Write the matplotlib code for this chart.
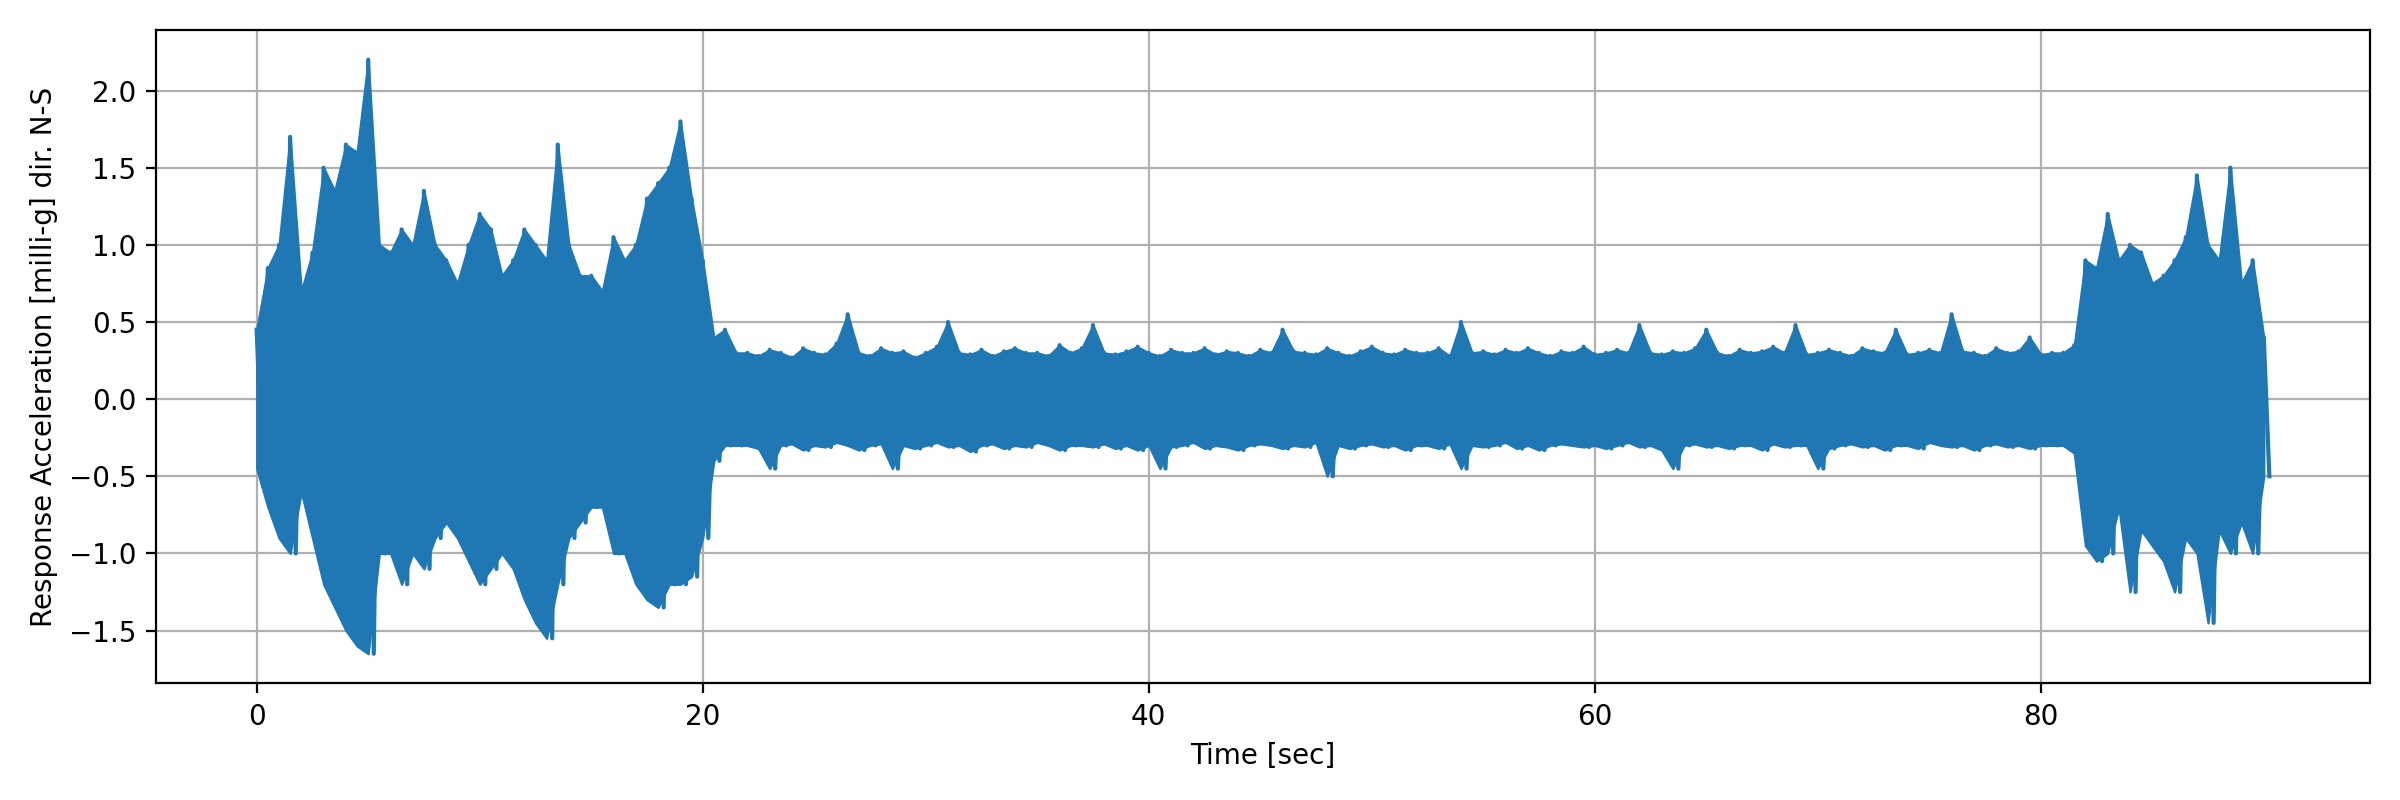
import numpy as np
import matplotlib.pyplot as plt

# half-second peak envelope read from the record (milli-g), three phases
burst_up = [0.45, 0.85, 1.0, 1.7, 0.7, 0.95, 1.5, 1.35, 1.65, 1.6, 2.2, 1.0, 0.95, 1.1, 1.0, 1.35,
            1.0, 0.9, 0.75, 1.0, 1.2, 1.1, 0.8, 0.9, 1.1, 1.0, 0.9, 1.65, 1.0, 0.8, 0.8, 0.7,
            1.05, 0.9, 1.0, 1.3, 1.4, 1.5, 1.8, 1.3, 0.9, 0.4, 0.45, 0.3]
burst_lo = [-0.45, -0.7, -0.9, -1.0, -0.6, -0.9, -1.2, -1.35, -1.5, -1.6, -1.65, -1.0, -1.0, -1.2, -1.0, -1.1,
            -0.9, -0.8, -0.9, -1.05, -1.2, -1.1, -1.0, -1.1, -1.3, -1.45, -1.55, -1.2, -0.9, -0.8, -0.7, -0.7,
            -1.0, -1.0, -1.2, -1.3, -1.35, -1.2, -1.2, -1.15, -0.9, -0.4, -0.3, -0.3]

quiet_up = [0.3, 0.28, 0.32, 0.3, 0.27, 0.33, 0.3, 0.29, 0.36, 0.55, 0.3, 0.28, 0.33, 0.3, 0.31, 0.27,
            0.3, 0.34, 0.5, 0.3, 0.29, 0.32, 0.28, 0.31, 0.33, 0.3, 0.3, 0.28, 0.35, 0.3, 0.33, 0.48,
            0.3, 0.29, 0.31, 0.34, 0.3, 0.28, 0.32, 0.3, 0.3, 0.33, 0.29, 0.31, 0.3, 0.28, 0.32, 0.3,
            0.45, 0.31, 0.3, 0.29, 0.33, 0.3, 0.28, 0.31, 0.34, 0.3, 0.29, 0.32, 0.3, 0.3, 0.33, 0.28,
            0.5, 0.3, 0.31, 0.29, 0.32, 0.3, 0.33, 0.3, 0.28, 0.31, 0.3, 0.34, 0.29, 0.3, 0.32, 0.3,
            0.48, 0.3, 0.29, 0.31, 0.3, 0.33, 0.45, 0.3, 0.28, 0.32, 0.3, 0.31, 0.34, 0.3, 0.48, 0.29,
            0.3, 0.32, 0.3, 0.28, 0.33, 0.31, 0.3, 0.45, 0.29, 0.3, 0.32, 0.3, 0.55, 0.31, 0.3, 0.28,
            0.33, 0.3, 0.31, 0.4, 0.29, 0.3]
quiet_lo = [-0.3, -0.32, -0.45, -0.3, -0.29, -0.33, -0.3, -0.31, -0.28, -0.3, -0.33, -0.3, -0.29, -0.45, -0.3, -0.32,
            -0.3, -0.28, -0.31, -0.3, -0.34, -0.3, -0.29, -0.32, -0.3, -0.31, -0.28, -0.3, -0.33, -0.3, -0.3, -0.31,
            -0.29, -0.32, -0.3, -0.33, -0.3, -0.45, -0.31, -0.3, -0.28, -0.32, -0.3, -0.31, -0.33, -0.3, -0.29, -0.3,
            -0.32, -0.3, -0.31, -0.28, -0.5, -0.3, -0.32, -0.3, -0.29, -0.31, -0.3, -0.33, -0.3, -0.3, -0.32, -0.29,
            -0.45, -0.3, -0.31, -0.3, -0.28, -0.32, -0.3, -0.33, -0.3, -0.29, -0.3, -0.31, -0.3, -0.32, -0.3, -0.28,
            -0.31, -0.3, -0.33, -0.45, -0.3, -0.29, -0.31, -0.3, -0.32, -0.3, -0.3, -0.33, -0.29, -0.31, -0.3, -0.3,
            -0.45, -0.32, -0.3, -0.29, -0.31, -0.3, -0.33, -0.3, -0.3, -0.32, -0.28, -0.3, -0.31, -0.3, -0.33, -0.3,
            -0.29, -0.31, -0.3, -0.32, -0.3, -0.3]

tail_up = [0.3, 0.35, 0.9, 0.85, 1.2, 0.9, 1.0, 0.95, 0.75, 0.8, 0.9, 1.05, 1.45, 1.0, 0.9, 1.5,
           0.75, 0.9, 0.4]
tail_lo = [-0.3, -0.35, -0.95, -1.05, -1.0, -0.7, -1.25, -0.85, -0.95, -1.05, -1.25, -0.9, -1.0, -1.45, -0.85, -1.0,
           -0.8, -1.0, -0.5]

upper = np.array(burst_up + quiet_up + tail_up)
lower = np.array(burst_lo + quiet_lo + tail_lo)
bin_start = np.arange(len(upper)) * 0.5

# alternate peaks inside each half-second bin
t = np.empty(len(upper) * 2)
acc = np.empty(len(upper) * 2)
t[0::2] = bin_start
t[1::2] = bin_start + 0.25
acc[0::2] = upper
acc[1::2] = lower

color = '#1f77b4'
fig, ax = plt.subplots(figsize=(12, 4), dpi=200)
ax.fill_between(bin_start, lower, upper, color=color, linewidth=0.8, zorder=2)
ax.plot(t, acc, color=color, linewidth=1.5, zorder=2)
ax.set_xlabel('Time [sec]')
ax.set_ylabel('Response Acceleration [milli-g] dir. N-S')
ax.grid(True)
fig.tight_layout()
fig.savefig('out.png')
